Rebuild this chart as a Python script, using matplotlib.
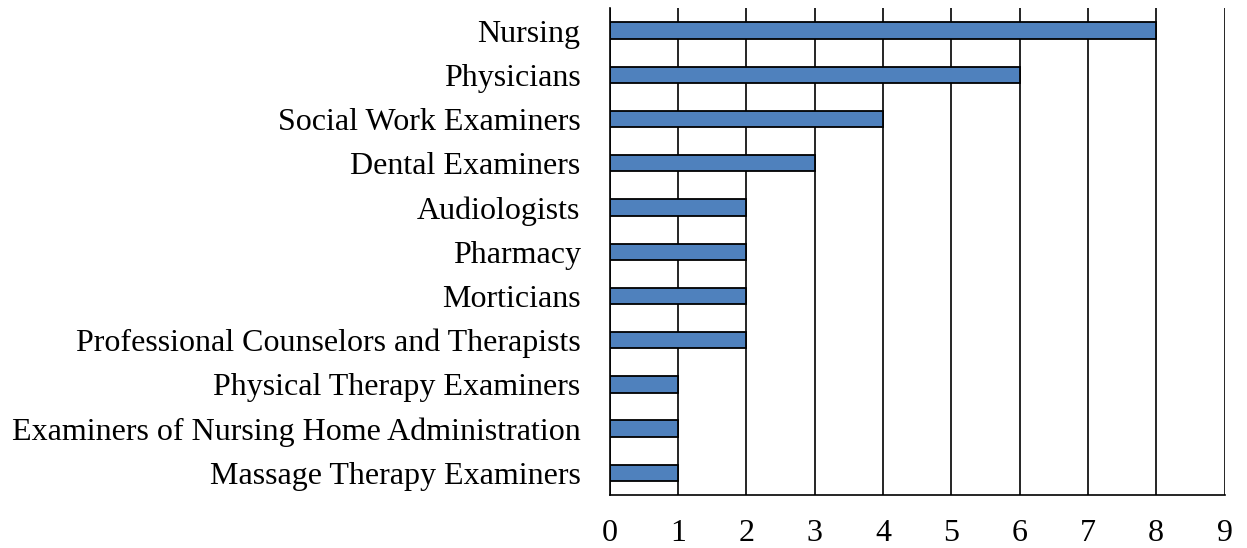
import matplotlib.pyplot as plt
import numpy as np

boards = ["Nursing", "Physicians", "Social Work Examiners", "Dental Examiners",
          "Audiologists", "Pharmacy", "Morticians",
          "Professional Counselors and Therapists", "Physical Therapy Examiners",
          "Examiners of Nursing Home Administration", "Massage Therapy Examiners"]
counts = [8, 6, 4, 3, 2, 2, 2, 2, 1, 1, 1]
xticks = list(range(10))

plt.rcParams['font.family'] = ['Liberation Serif', 'DejaVu Serif']
plt.rcParams['font.size'] = 23

fig = plt.figure(figsize=(12.47, 5.48), dpi=100)
ax = fig.add_axes([0.489, 0.0967, 0.493, 0.888])

y = np.arange(len(boards))[::-1]
ax.barh(y, counts, height=0.37, color="#4F81BD", edgecolor="black", linewidth=1.3, zorder=3)

ax.set_xlim(0, 9)
ax.set_ylim(-0.5, len(boards) - 0.5)
ax.set_xticks(xticks)
ax.set_yticks(y)
ax.set_yticklabels(boards)
ax.tick_params(axis="both", length=0)
ax.tick_params(axis="x", pad=17)
ax.tick_params(axis="y", pad=21)
ax.grid(axis="x", color="black", linewidth=1.2, zorder=0)
for s in ["top", "right"]:
    ax.spines[s].set_visible(False)
for s in ["left", "bottom"]:
    ax.spines[s].set_linewidth(1.2)
    ax.spines[s].set_zorder(4)

fig.savefig("out.png", dpi=100)
